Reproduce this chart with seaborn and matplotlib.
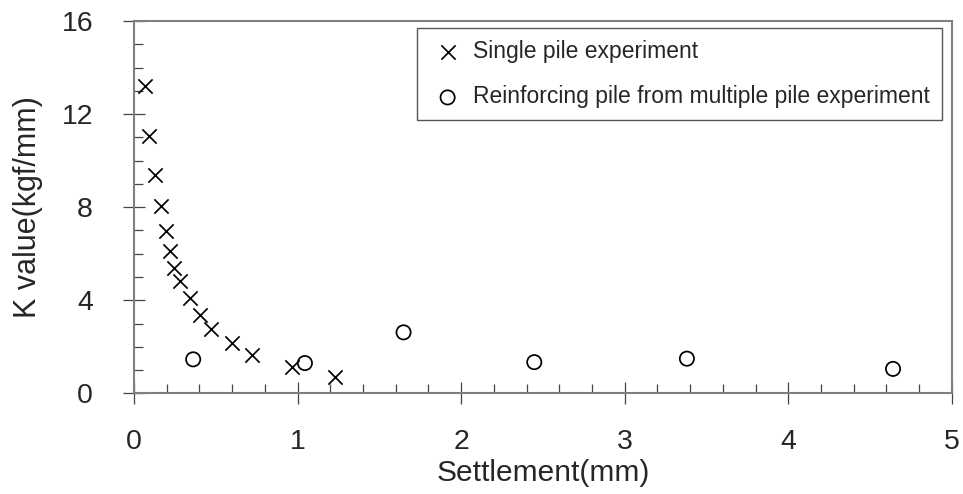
import matplotlib
matplotlib.use("Agg")
import matplotlib.pyplot as plt
import seaborn as sns
import pandas as pd
from matplotlib.ticker import MultipleLocator

# Data
single_x = [0.067, 0.094, 0.126, 0.163, 0.193, 0.22, 0.246, 0.283, 0.342, 0.403, 0.47, 0.60, 0.72, 0.967, 1.226]
single_y = [13.22, 11.07, 9.39, 8.03, 6.98, 6.12, 5.40, 4.83, 4.09, 3.37, 2.78, 2.18, 1.63, 1.13, 0.72]
multi_x = [0.362, 1.045, 1.648, 2.447, 3.38, 4.64]
multi_y = [1.46, 1.30, 2.62, 1.34, 1.49, 1.05]
label_single = "Single pile experiment"
label_multi = "Reinforcing pile from multiple pile experiment"
x_label = "Settlement(mm)"
y_label = "K value(kgf/mm)"

df_single = pd.DataFrame({"x": single_x, "y": single_y})
df_multi = pd.DataFrame({"x": multi_x, "y": multi_y})

sns.set_style("white")
plt.rcParams["font.family"] = ["Liberation Sans", "DejaVu Sans"]

fig = plt.figure(figsize=(9.63, 4.94), dpi=100)
ax = fig.add_axes([0.1391, 0.2038, 0.8494, 0.7537])

sns.scatterplot(data=df_single, x="x", y="y", ax=ax, marker="x", s=105,
                color="black", linewidth=1.25, label=label_single, zorder=3)
sns.scatterplot(data=df_multi, x="x", y="y", ax=ax, marker="o", s=105,
                facecolors="none", edgecolor="black", linewidth=1.25,
                label=label_multi, zorder=3)

ax.set_xlim(0, 5)
ax.set_ylim(0, 16)
ax.xaxis.set_major_locator(MultipleLocator(1))
ax.xaxis.set_minor_locator(MultipleLocator(0.2))
ax.yaxis.set_major_locator(MultipleLocator(4))
ax.yaxis.set_minor_locator(MultipleLocator(1))

spine_color = "#808080"
for sp in ax.spines.values():
    sp.set_visible(True)
    sp.set_color(spine_color)
    sp.set_linewidth(1.5)

ax.tick_params(which="major", direction="inout", length=15.8, width=0.9,
               color="#444444", labelsize=20.5, bottom=True, left=True)
ax.tick_params(which="minor", direction="in", length=6.3, width=0.9,
               color="#444444", bottom=True, left=True)
ax.tick_params(axis="x", which="major", pad=17.5)
ax.tick_params(axis="y", which="major", pad=21.5)

ax.set_xlabel(x_label, fontsize=21.5, labelpad=3)
ax.set_ylabel(y_label, fontsize=22, labelpad=13)
ax.grid(False)

leg = ax.legend(loc="upper right", bbox_to_anchor=(0.9874, 0.9804), fontsize=16.5,
                frameon=True, fancybox=False, handletextpad=0.3,
                borderpad=0.52, labelspacing=0.97, handlelength=1.6,
                borderaxespad=0.0)
leg.get_frame().set_edgecolor("#555555")
leg.get_frame().set_linewidth(1.0)
leg.get_frame().set_alpha(1.0)

fig.savefig("out.png", dpi=100)
